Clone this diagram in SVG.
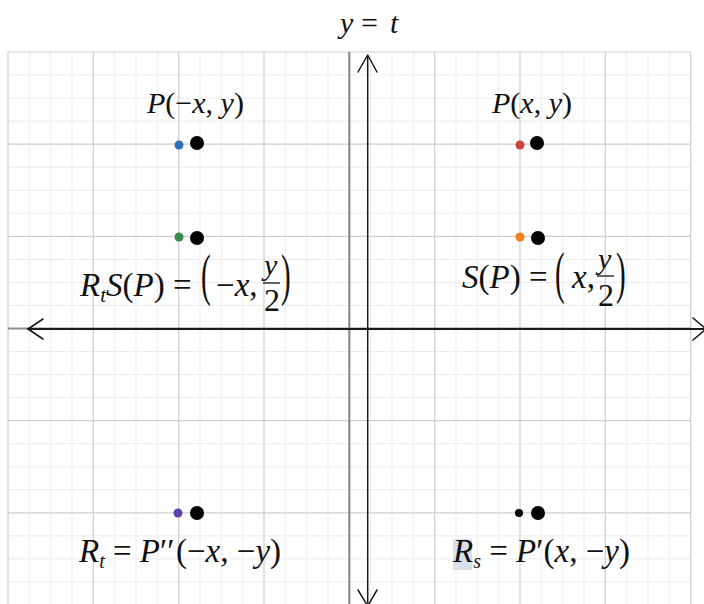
<svg xmlns="http://www.w3.org/2000/svg" width="704" height="604" viewBox="0 0 704 604">
<defs>
<style>
.minor{stroke:#ebebeb;stroke-width:1;fill:none}
.major{stroke:#cfcfcf;stroke-width:1.2;fill:none}
.gaxis{stroke:#8c8c8c;stroke-width:2.2;fill:none}
.axis{stroke:#1a1a1a;fill:none;stroke-linecap:round;stroke-linejoin:round}
.m{font-family:"Liberation Serif","DejaVu Serif",serif;fill:#111}
.i{font-style:italic}
.big{stroke:#111;stroke-width:1.3}
.dot{fill:#000}
</style>
</defs>
<rect width="704" height="604" fill="#fff"/>
<g id="grid">
<path class="minor" d="M29.33 52V604M50.67 52V604M72 52V604M114.67 52V604M136 52V604M157.33 52V604M200 52V604M221.33 52V604M242.67 52V604M285.33 52V604M306.67 52V604M328 52V604M370.67 52V604M392 52V604M413.33 52V604M456 52V604M477.33 52V604M498.67 52V604M541.33 52V604M562.67 52V604M584 52V604M626.67 52V604M648 52V604M669.33 52V604M8 75.04H691M8 98.08H691M8 121.13H691M8 167.21H691M8 190.25H691M8 213.29H691M8 259.38H691M8 282.42H691M8 305.46H691M8 351.54H691M8 374.58H691M8 397.63H691M8 443.71H691M8 466.75H691M8 489.79H691M8 535.88H691M8 558.92H691M8 581.96H691"/>
<path class="major" d="M8 52V604M93.33 52V604M178.67 52V604M264 52V604M434.67 52V604M520 52V604M605.33 52V604M690.67 52V604M8 52H691M8 144.17H691M8 236.33H691M8 420.67H691M8 512.83H691"/>
<path class="gaxis" d="M349.33 52V604M8 328.5H691"/>
</g>
<g id="connectors">
<path class="axis" stroke-width="2.2" d="M28 329H704"/>
<path class="axis" stroke-width="1.6" d="M43 319L28 329L43 339M693 318L706 329L693 340"/>
<path class="axis" stroke-width="1.5" d="M367.7 56V603M358 72L367.7 55L377 72M358 590L367.7 606L377 590"/>
</g>
<g id="line-label">
<text class="m" font-size="30" x="340" y="33"><tspan class="i">y</tspan><tspan x="361">=</tspan><tspan class="i" x="390">t</tspan></text>
</g>
<g id="node-p">
<circle cx="520" cy="145" r="4.5" fill="#c74440"/>
<circle class="dot" cx="537" cy="143" r="7"/>
<text class="m" font-size="30" x="492" y="113"><tspan class="i">P</tspan>(<tspan class="i">x</tspan>, <tspan class="i">y</tspan>)</text>
</g>
<g id="node-p-neg-x">
<circle cx="179" cy="145" r="4.5" fill="#2d70b3"/>
<circle class="dot" cx="197" cy="143" r="7"/>
<text class="m" font-size="30" x="147" y="113"><tspan class="i">P</tspan>(−<tspan class="i">x</tspan>, <tspan class="i">y</tspan>)</text>
</g>
<g id="node-sp">
<circle cx="520" cy="237" r="4.5" fill="#fa7e19"/>
<circle class="dot" cx="538" cy="238" r="7"/>
<text class="m" font-size="33" x="462" y="288"><tspan class="i">S</tspan>(<tspan class="i">P</tspan>) =</text>
<text class="m" font-size="29" transform="translate(555 292) scale(1 1.95)">(</text>
<text class="m" font-size="33" x="572" y="288"><tspan class="i">x</tspan>,</text>
<text class="m i" font-size="30" x="598" y="269">y</text>
<line class="big" x1="597" y1="276" x2="614" y2="276"/>
<text class="m" font-size="32" x="598" y="306">2</text>
<text class="m" font-size="29" transform="translate(616 292) scale(1 1.95)">)</text>
</g>
<g id="node-rtsp">
<circle cx="179" cy="237" r="4.5" fill="#388c46"/>
<circle class="dot" cx="197" cy="238" r="7"/>
<text class="m" font-size="33" x="80" y="296"><tspan class="i">R</tspan><tspan class="i" font-size="21" dy="6">t</tspan><tspan class="i" dy="-6">S</tspan>(<tspan class="i">P</tspan>) =</text>
<text class="m" font-size="29" transform="translate(201 294) scale(1 1.95)">(</text>
<text class="m" font-size="33" x="216" y="296">−<tspan class="i">x</tspan>,</text>
<text class="m i" font-size="30" x="264" y="275">y</text>
<line class="big" x1="263" y1="283" x2="280" y2="283"/>
<text class="m" font-size="32" x="264" y="311">2</text>
<text class="m" font-size="29" transform="translate(281 294) scale(1 1.95)">)</text>
</g>
<g id="node-rt">
<circle cx="178" cy="513" r="4.5" fill="#6042a6"/>
<circle class="dot" cx="197" cy="513" r="7"/>
<text class="m" font-size="33" x="79" y="562"><tspan class="i">R</tspan><tspan class="i" font-size="20" dy="6">t</tspan><tspan dy="-6"> = </tspan><tspan class="i">P</tspan>′′<tspan x="176">(−</tspan><tspan class="i">x</tspan>, −<tspan class="i">y</tspan>)</text>
</g>
<g id="node-rs">
<circle class="dot" cx="519" cy="513" r="4"/>
<circle class="dot" cx="538" cy="513" r="7"/>
<rect x="453" y="539" width="19" height="31" fill="#d9e0ec"/>
<text class="m" font-size="33" x="453" y="562"><tspan class="i">R</tspan><tspan class="i" font-size="20" dy="6">s</tspan><tspan dy="-6"> = </tspan><tspan class="i">P</tspan>′(<tspan class="i">x</tspan>, −<tspan class="i">y</tspan>)</text>
</g>
</svg>
